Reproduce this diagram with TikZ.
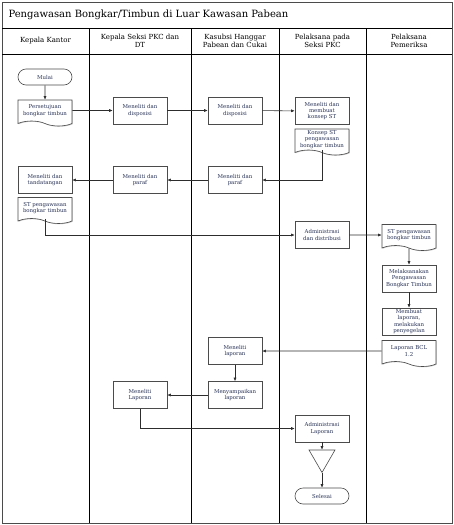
\documentclass[tikz,border=0pt]{standalone}
\usepackage{fontspec}
\setmainfont{DejaVu Serif}
\usetikzlibrary{arrows.meta}
\usetikzlibrary{shapes.symbols,shapes.geometric,shadows}
\definecolor{ColLine}{RGB}{45,45,45}
\definecolor{ColBox}{RGB}{75,75,75}
\definecolor{ColText}{RGB}{40,50,85}
\tikzstyle{BoxText}=[font=\fontsize{5.4}{6.4}\selectfont,text=ColText,align=center]
\tikzstyle{ProcBox}=[BoxText,rectangle,draw=ColBox,line width=.6pt,fill=white,minimum width=54pt,
minimum height=27pt,inner sep=1pt,text width=52pt,
drop shadow={shadow xshift=.7pt,shadow yshift=-.7pt,fill=black!40,opacity=.6}]
\tikzstyle{DocBox}=[BoxText,tape,tape bend top=none,tape bend bottom=out and in,
tape bend height=5pt,draw=ColBox,line width=.6pt,fill=white,minimum width=54pt,minimum height=26pt,
inner sep=1pt,text width=52pt,
drop shadow={shadow xshift=.7pt,shadow yshift=-.7pt,fill=black!40,opacity=.6}]
\tikzstyle{TermBox}=[BoxText,rectangle,rounded corners=8pt,draw=ColBox,line width=.6pt,
minimum width=54pt,minimum height=16pt,inner sep=1pt]
\tikzstyle{Arsip}=[regular polygon,regular polygon sides=3,shape border rotate=180,
draw=ColBox,line width=.6pt,minimum size=30pt,inner sep=0pt]
\tikzstyle{EdgeFlow}=[ColLine,line width=.55pt,-{Latex[length=3.5pt,width=3pt]}]
\tikzstyle{LaneLine}=[black,line width=.7pt]
\tikzstyle{LaneHead}=[font=\fontsize{7}{8}\selectfont,align=center]

\begin{document}
\begin{tikzpicture}[x=1pt,y=-1pt]
        \useasboundingbox(0,0)rectangle(454,525);
        % lanes
        \draw[ColBox,line width=1pt](2,2)rectangle(452,523);
        \draw[LaneLine](2,28)--(452,28);
        \draw[LaneLine](2,54)--(452,54);
        \foreach \x in {89,191,279,366}
            \draw[LaneLine](\x,28)--(\x,523);
        \node[anchor=west,font=\fontsize{10}{12}\selectfont](judul)at(5,15){Pengawasan Bongkar/Timbun di Luar Kawasan Pabean};
        \node[LaneHead](hA)at(45.5,41){Kepala Kantor};
        \node[LaneHead](hB)at(140,41){Kepala Seksi PKC dan\\DT};
        \node[LaneHead](hC)at(235,41){Kasubsi Hanggar\\Pabean dan Cukai};
        \node[LaneHead](hD)at(322.5,41){Pelaksana pada\\Seksi PKC};
        \node[LaneHead](hE)at(409,41){Pelaksana\\Pemeriksa};
        % steps
        \node[TermBox](mulai)at(45,77){Mulai};
        \node[DocBox](setuju)at(45,110.5){Persetujuan\\bongkar timbun};
        \node[ProcBox](dispA)at(140,110.5){Meneliti dan\\disposisi};
        \node[ProcBox](dispB)at(235,110.5){Meneliti dan\\disposisi};
        \node[ProcBox](konsep)at(322,111){Meneliti dan\\membuat\\konsep ST};
        \node[DocBox](konsepDoc)at(322,139.5){Konsep ST\\pengawasan\\bongkar timbun};
        \node[ProcBox](parafB)at(235,180){Meneliti dan\\paraf};
        \node[ProcBox](parafA)at(140,180){Meneliti dan\\paraf};
        \node[ProcBox](ttd)at(45,180){Meneliti dan\\tandatangan};
        \node[DocBox](stDocA)at(45,208){ST pengawasan\\bongkar timbun};
        \node[ProcBox](admDist)at(322,235){Administrasi\\dan distribusi};
        \node[DocBox](stDocB)at(409,235){ST pengawasan\\bongkar timbun};
        \node[ProcBox](laksana)at(409,278.5){Melaksanakan\\Pengawasan\\Bongkar Timbun};
        \node[ProcBox](buatLap)at(409,321.5){Membuat\\laporan,\\melakukan\\penyegelan};
        \node[DocBox](bcl)at(409,351){Laporan BCL\\1.2};
        \node[ProcBox](lapB)at(235,351){Meneliti\\laporan};
        \node[ProcBox](sampai)at(235,395){Menyampaikan\\laporan};
        \node[ProcBox](lapA)at(140,395){Meneliti\\Laporan};
        \node[ProcBox](admLap)at(322,428.5){Administrasi\\Laporan};
        \node[Arsip](arsip)at(322,457.5){};
        \node[TermBox](selesai)at(322,496){Selesai};
        % flow
        \draw[EdgeFlow](mulai)--(setuju);
        \draw[EdgeFlow](setuju)--(dispA);
        \draw[EdgeFlow](dispA)--(dispB);
        \draw[EdgeFlow](dispB)--(konsep);
        \draw[EdgeFlow](konsepDoc.south)|-(parafB.east);
        \draw[EdgeFlow](parafB)--(parafA);
        \draw[EdgeFlow](parafA)--(ttd);
        \draw[EdgeFlow](stDocA.south)|-(admDist.west);
        \draw[EdgeFlow](admDist)--(stDocB);
        \draw[EdgeFlow](stDocB)--(laksana);
        \draw[EdgeFlow](laksana)--(buatLap);
        \draw[EdgeFlow](bcl)--(lapB);
        \draw[EdgeFlow](lapB)--(sampai);
        \draw[EdgeFlow](sampai)--(lapA);
        \draw[EdgeFlow](lapA.south)|-(admLap.west);
        \draw[EdgeFlow](admLap)--(arsip);
        \draw[EdgeFlow](arsip)--(selesai);
    \end{tikzpicture}
\end{document}
